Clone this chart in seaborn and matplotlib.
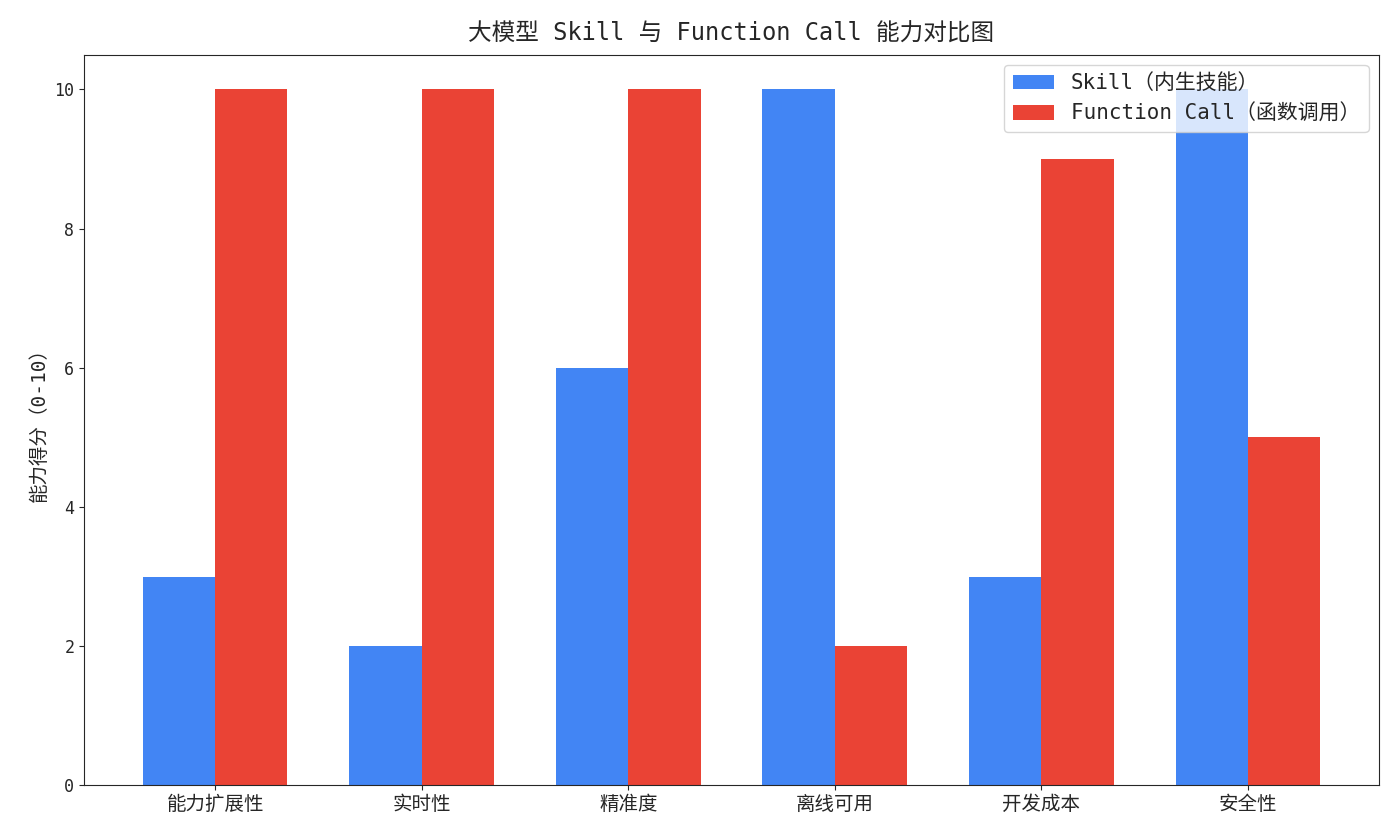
import pandas as pd
import seaborn as sns
import matplotlib.pyplot as plt

# capability scores
categories = ["能力扩展性", "实时性", "精准度", "离线可用", "开发成本", "安全性"]
skill_scores = [3, 2, 6, 10, 3, 10]
fc_scores = [10, 10, 10, 2, 9, 5]
series_names = ["Skill（内生技能）", "Function Call（函数调用）"]

df = pd.DataFrame({
    "维度": categories * 2,
    "得分": skill_scores + fc_scores,
    "类型": [series_names[0]] * len(categories) + [series_names[1]] * len(categories),
})

sns.set_style("ticks")
plt.rcParams['font.family'] = ['DejaVu Sans Mono', 'Noto Sans CJK SC']
plt.rcParams['axes.unicode_minus'] = False

fig, ax = plt.subplots(figsize=(14, 8.4), dpi=100)
sns.barplot(data=df, x="维度", y="得分", hue="类型", width=0.7,
            palette=["#4285F4", "#EA4335"], saturation=1, linewidth=0, ax=ax)

# matplotlib-style default margins around the bars
ax.set_xlim(-0.635, len(categories) - 1 + 0.635)
ax.set_ylim(0, 10.5)
ax.set_xlabel("")
ax.set_ylabel("能力得分（0-10）", fontsize=14)
ax.set_title("大模型 Skill 与 Function Call 能力对比图", fontsize=17, pad=10)
ax.tick_params(axis="x", labelsize=14)
ax.tick_params(axis="y", labelsize=12)
ax.legend(loc="upper right", fontsize=15, title=None)

plt.subplots_adjust(left=0.06, right=0.985, top=0.935, bottom=0.065)
plt.savefig("out.png")
